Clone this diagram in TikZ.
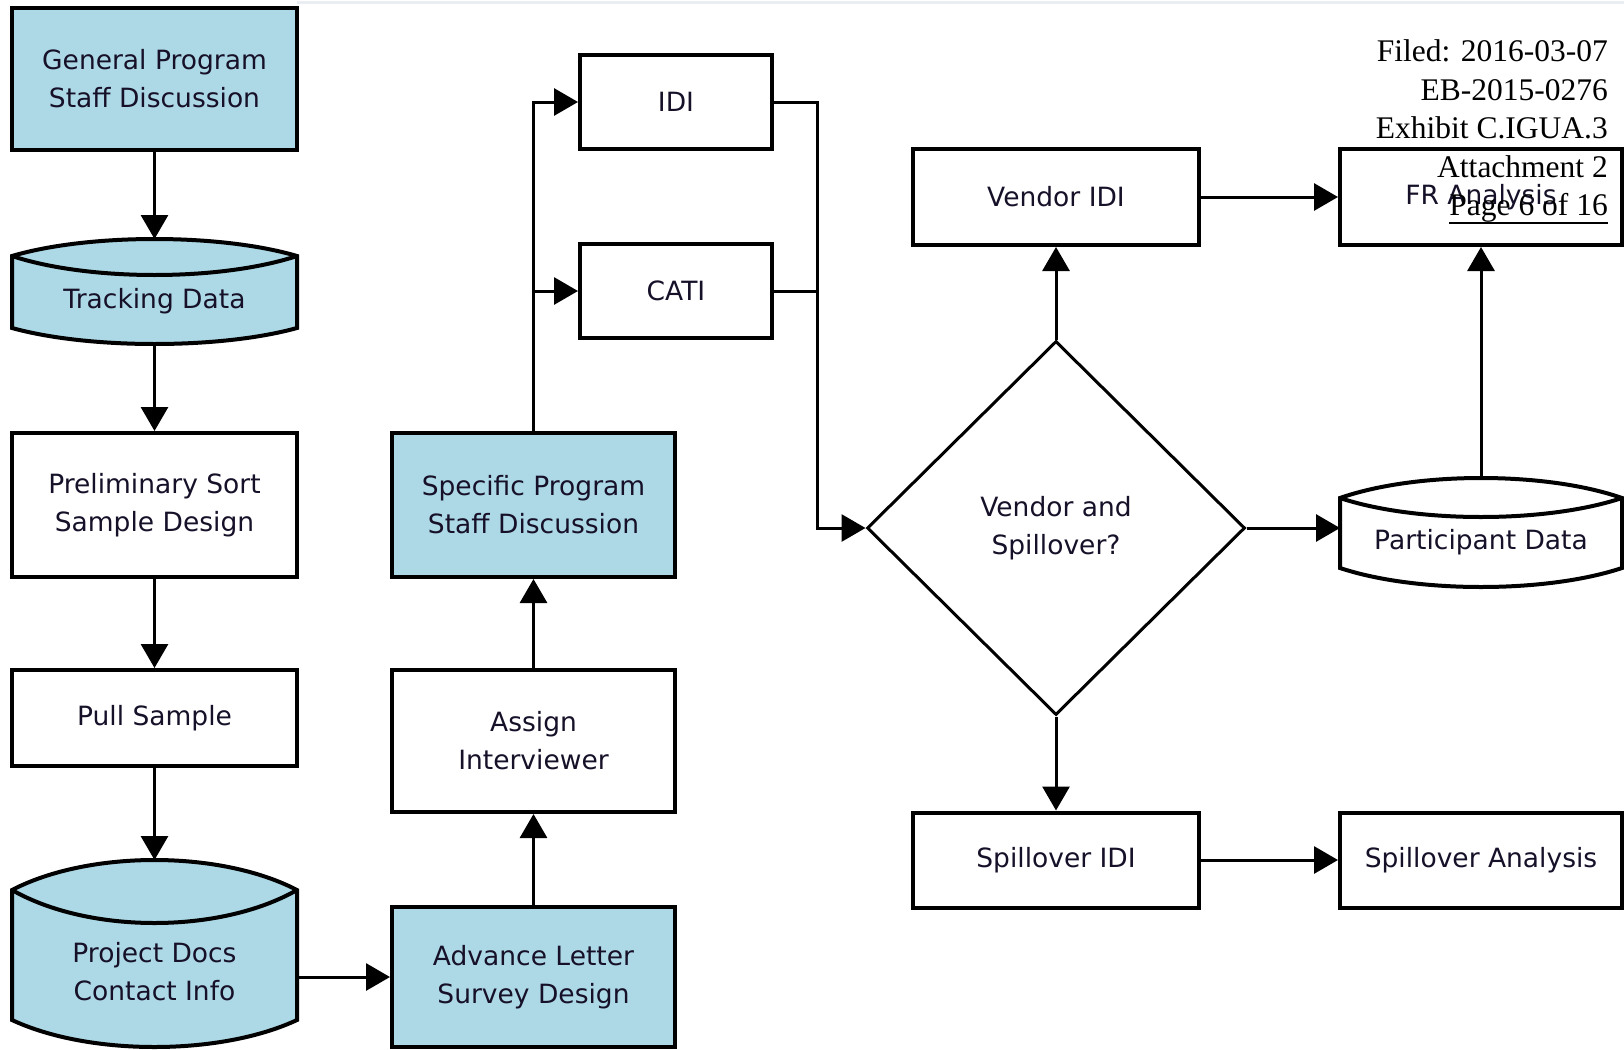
\documentclass[tikz,border=0pt]{standalone}
\usepackage{fontspec}
\setmainfont{DejaVu Sans}
\newfontfamily\hdrfont{Liberation Serif}
\usetikzlibrary{arrows.meta,shapes.geometric}

\definecolor{storeblue}{RGB}{173,216,230}
\definecolor{inkdark}{RGB}{22,16,40}
\definecolor{rulegray}{RGB}{234,238,242}

% data store drum: x0, x1, side top, side bottom, top bulge, inner dip, bottom bulge, fill
\newcommand{\drumshape}[8]{%
  \filldraw[drumline, fill=#8]
    (#1,#3) .. controls ({#1+0.27*(#2-#1)},{#3-4/3*#5}) and ({#2-0.27*(#2-#1)},{#3-4/3*#5}) .. (#2,#3)
    -- (#2,#4) .. controls ({#2-0.27*(#2-#1)},{#4+4/3*#7}) and ({#1+0.27*(#2-#1)},{#4+4/3*#7}) .. (#1,#4)
    -- cycle;
  \draw[drumline]
    (#1,#3) .. controls ({#1+0.27*(#2-#1)},{#3+4/3*#6}) and ({#2-0.27*(#2-#1)},{#3+4/3*#6}) .. (#2,#3);
}

\begin{document}
\begin{tikzpicture}[x=1pt,y=-1pt,
  lbl/.style={font=\fontsize{26.5}{38}\selectfont, text=inkdark, align=center},
  stepbox/.style={lbl, draw=black, line width=4pt, inner sep=0pt, minimum width=285pt},
  hilite/.style={fill=storeblue},
  drumline/.style={draw=black, line width=4pt, line join=miter},
  choice/.style={lbl, diamond, draw=black, line width=3pt, inner sep=0pt, aspect=1,
    minimum width=378pt, minimum height=374pt},
  flow/.style={draw=black, line width=3pt, -{Triangle[length=24pt,width=27pt]}},
  link/.style={draw=black, line width=3pt},
  hdr/.style={anchor=base east, inner sep=0pt, text=black, font=\hdrfont\fontsize{31.5}{38}\selectfont}]

\useasboundingbox (0,0) rectangle (1624,1049);
\fill[white] (0,0) rectangle (1624,1049);
\draw[rulegray, line width=3pt] (297,3) -- (1624,3);

% left column
\node[stepbox, hilite, minimum height=142pt] (gen) at (154.5,79) {General Program\\Staff Discussion};
\drumshape{12}{297}{256}{328}{17}{19}{16}{storeblue}
\node[lbl] (track) at (154.5,301.5) {Tracking Data};
\coordinate (track-top) at (154.5,239);
\coordinate (track-bot) at (154.5,344);
\node[stepbox, minimum height=144pt] (prelim) at (154.5,505) {Preliminary Sort\\Sample Design};
\node[stepbox, minimum height=96pt] (pull) at (154.5,718) {Pull Sample};
\drumshape{12}{297}{890}{1020}{30}{33}{27}{storeblue}
\node[lbl] (proj) at (154.5,971.5) {Project Docs\\Contact Info};
\coordinate (proj-top) at (154.5,860);
\coordinate (proj-e) at (297,977);

% middle column
\node[stepbox, hilite, minimum width=283pt, minimum height=144pt] (spec) at (533.5,505) {Specific Program\\Staff Discussion};
\node[stepbox, minimum width=283pt, minimum height=142pt] (assign) at (533.5,741) {Assign\\Interviewer};
\node[stepbox, hilite, minimum width=283pt, minimum height=140pt] (adv) at (533.5,977) {Advance Letter\\Survey Design};
\node[stepbox, minimum width=192pt, minimum height=94pt] (idi) at (676,102) {IDI};
\node[stepbox, minimum width=192pt, minimum height=94pt] (cati) at (676,291) {CATI};

% decision and outcomes
\node[choice] (dec) at (1056,528) {Vendor and\\Spillover?};
\node[stepbox, minimum width=286pt, minimum height=96pt] (vidi) at (1056,197) {Vendor IDI};
\node[stepbox, minimum width=286pt, minimum height=95pt] (sidi) at (1056,860) {Spillover IDI};
\node[stepbox, minimum width=282pt, minimum height=96pt] (fr) at (1481,197) {FR Analysis};
\node[stepbox, minimum width=282pt, minimum height=95pt] (span) at (1481,860) {Spillover Analysis};
\drumshape{1340}{1622}{498}{568}{20}{19}{19}{white}
\node[lbl] (part) at (1481,542.5) {Participant Data};
\coordinate (part-top) at (1481,478);
\coordinate (part-w) at (1340,528);
\coordinate (merge) at (817,528);

% connectors
\draw[flow] (gen) -- (track-top);
\draw[flow] (track-bot) -- (prelim);
\draw[flow] (prelim) -- (pull);
\draw[flow] (pull) -- (proj-top);
\draw[flow] (proj-e) -- (adv.west);
\draw[flow] (adv) -- (assign);
\draw[flow] (assign) -- (spec);
\draw[flow] (spec.north) |- (idi.west);
\draw[flow] (spec.north) |- (cati.west);
\draw[link] (cati.east) -- (cati.east -| merge);
\draw[flow] (idi.east) -| (merge) -- (dec.west);
\draw[flow] (dec.north) -- (vidi.south);
\draw[flow] (dec.south) -- (sidi.north);
\draw[flow] (dec.east) -- (part-w);
\draw[flow] (vidi.east) -- (fr.west);
\draw[flow] (part-top) -- (fr.south);
\draw[flow] (sidi) -- (span);

% filing stamp
\node[hdr] (h1) at (1608,62) {Filed: 2016-03-07};
\node[hdr] (h2) at (1608,100) {EB-2015-0276};
\node[hdr] (h3) at (1608,138) {Exhibit C.IGUA.3};
\node[hdr] (h4) at (1608,177) {Attachment 2};
\node[hdr] (h5) at (1608,215) {Page 6 of 16};
\draw[black, line width=2pt] ([yshift=-7.5pt]h5.base west) -- ([yshift=-7.5pt]h5.base east);
\end{tikzpicture}
\end{document}
